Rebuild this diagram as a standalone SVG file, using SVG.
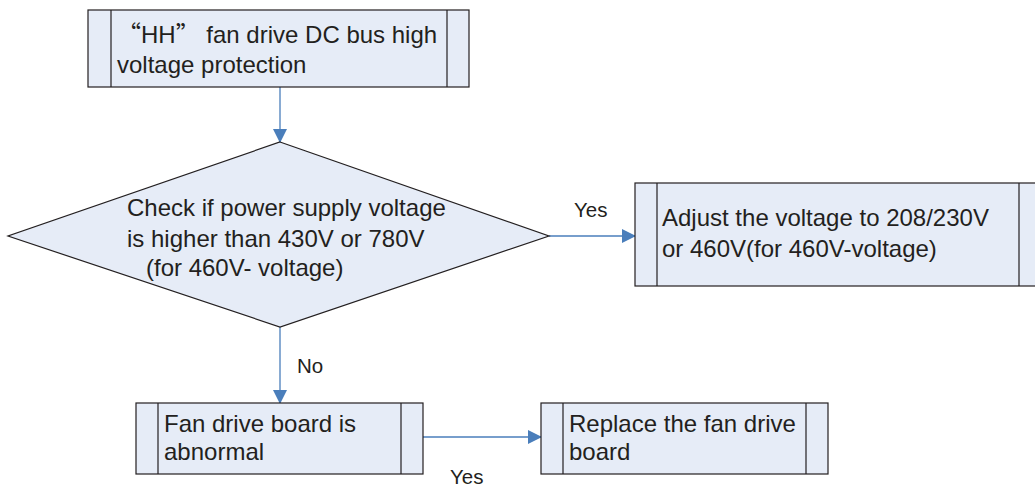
<svg xmlns="http://www.w3.org/2000/svg" width="1035" height="486" viewBox="0 0 1035 486">
<defs>
<style>
.box{fill:#e6ecf7;stroke:#231f20;stroke-width:1.2}
.ln{stroke:#231f20;stroke-width:1.2;fill:none}
.t{font-family:"Liberation Sans",Arial,sans-serif;font-size:24px;fill:#231f20}
.lb{font-family:"Liberation Sans",Arial,sans-serif;font-size:20.5px;fill:#231f20}
.c{stroke:#4a7ebb;stroke-width:1.3;fill:none;marker-end:url(#ah)}
</style>
<marker id="ah" markerWidth="14" markerHeight="14" refX="13" refY="7" orient="auto" markerUnits="userSpaceOnUse">
<path d="M0,0 L14,7 L0,14 z" fill="#4a7ebb"/>
</marker>
</defs>
<rect width="1035" height="486" fill="#ffffff"/>
<g id="connectors">
<line class="c" x1="280" y1="87" x2="280" y2="142"/>
<line class="c" x1="549" y1="236" x2="635" y2="236"/>
<line class="c" x1="280" y1="327" x2="280" y2="403"/>
<line class="c" x1="423" y1="437" x2="541" y2="437"/>
<text class="lb" x="574" y="217">Yes</text>
<text class="lb" x="297" y="373">No</text>
<text class="lb" x="450" y="484">Yes</text>
</g>
<g id="start">
<rect class="box" x="88" y="10" width="381" height="77"/>
<line class="ln" x1="111" y1="10" x2="111" y2="87"/>
<line class="ln" x1="447" y1="10" x2="447" y2="87"/>
<text class="t" x="117" y="43"><tspan font-family="'Noto Sans CJK SC',sans-serif">“</tspan>HH<tspan font-family="'Noto Sans CJK SC',sans-serif">”</tspan> fan drive DC bus high</text>
<text class="t" x="117" y="73">voltage protection</text>
</g>
<g id="check">
<polygon class="box" points="280,142 549,236 280,327 8,236"/>
<text class="t" x="127" y="216">Check if power supply voltage</text>
<text class="t" x="127" y="247">is higher than 430V or 780V</text>
<text class="t" x="146" y="276">(for 460V- voltage)</text>
</g>
<g id="adjust">
<rect class="box" x="635" y="183" width="410" height="103"/>
<line class="ln" x1="657" y1="183" x2="657" y2="286"/>
<line class="ln" x1="1019" y1="183" x2="1019" y2="286"/>
<text class="t" x="662" y="226">Adjust the voltage to 208/230V</text>
<text class="t" x="662" y="257">or 460V(for 460V-voltage)</text>
</g>
<g id="abnormal">
<rect class="box" x="136" y="403" width="287" height="71"/>
<line class="ln" x1="158" y1="403" x2="158" y2="474"/>
<line class="ln" x1="401" y1="403" x2="401" y2="474"/>
<text class="t" x="164" y="432">Fan drive board is</text>
<text class="t" x="164" y="460">abnormal</text>
</g>
<g id="replace">
<rect class="box" x="541" y="403" width="287" height="71"/>
<line class="ln" x1="563" y1="403" x2="563" y2="474"/>
<line class="ln" x1="806" y1="403" x2="806" y2="474"/>
<text class="t" x="569" y="432">Replace the fan drive</text>
<text class="t" x="569" y="460">board</text>
</g>
</svg>
